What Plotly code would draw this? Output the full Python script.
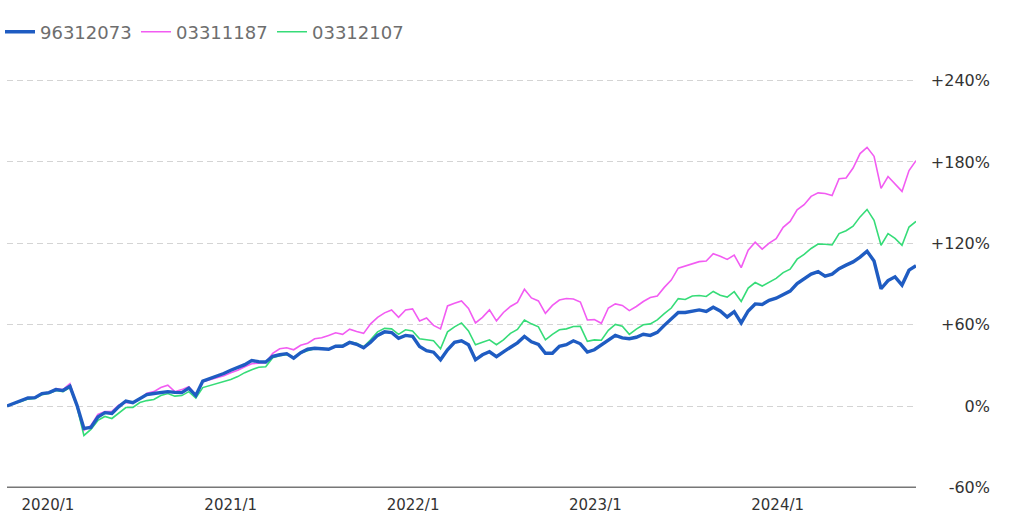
import pandas as pd
import plotly.graph_objects as go

# Series names (legend)
names = ["96312073", "03311187", "03312107"]
colors = ["#1f5cc2", "#f25cf2", "#36dc78"]

# Bi-weekly observation dates (cumulative return, %)
start_date = "2019-10-11"

fund_96312073 = [
    0, 1.8, 3.7, 5.9, 6.2, 9.2, 9.9, 12.1, 11.4, 14.5,
    0.7, -16.5, -15.8, -8.1, -4.9, -5.5, -0.4, 3.7, 2.4, 5.3,
    8.4, 9.2, 9.9, 10.6, 10.1, 9.9, 13.2, 7.7, 18.4, 20.2,
    22.0, 24.0, 26.4, 28.3, 30.5, 33.6, 32.7, 32.5, 36.7, 37.8,
    38.6, 35.3, 39.3, 41.9, 42.6, 42.2, 41.9, 44.1, 44.1, 46.9,
    45.5, 43.0, 47.0, 52.1, 54.7, 54.2, 49.9, 52.1, 51.4, 43.9,
    40.8, 39.7, 34.1, 41.5, 47.0, 48.1, 45.2, 34.1, 37.8, 40.0,
    36.4, 40.0, 43.3, 46.6, 51.3, 47.4, 45.5, 38.9, 38.9, 44.1,
    45.2, 48.1, 45.9, 39.8, 41.5, 44.8, 48.5, 52.1, 50.3, 49.6,
    50.7, 52.9, 52.1, 54.3, 59.5, 63.9, 69.0, 69.0, 70.1, 70.9,
    69.8, 72.9, 70.1, 65.7, 69.6, 61.3, 70.1, 75.3, 74.9, 78.0,
    79.5, 81.9, 84.8, 90.3, 93.9, 97.3, 99.1, 95.8, 97.3, 101.3,
    103.9, 106.3, 109.8, 114.2, 106.9, 86.5, 92.5, 95.3, 89.2, 100.2,
    103.5,
]

fund_03311187 = [
    0, 1.8, 3.7, 5.9, 6.2, 9.2, 9.9, 12.9, 12.1, 16.5,
    0.4, -18.0, -14.3, -6.2, -4.0, -4.0, 0.7, 2.6, 2.2, 5.5,
    9.5, 10.6, 13.6, 15.4, 10.6, 12.1, 14.3, 8.4, 18.0, 19.5,
    20.9, 22.4, 24.6, 26.4, 29.0, 31.2, 31.6, 31.9, 38.9, 42.2,
    43.0, 41.5, 44.8, 46.3, 49.6, 50.3, 52.1, 54.0, 52.9, 56.7,
    54.9, 53.6, 60.6, 65.4, 68.7, 70.9, 65.4, 70.9, 71.6, 62.8,
    65.0, 59.5, 56.9, 73.8, 75.8, 77.5, 72.0, 61.3, 65.4, 70.9,
    62.8, 69.0, 73.4, 76.4, 86.1, 79.7, 77.5, 68.4, 74.2, 78.2,
    79.3, 78.9, 76.7, 63.5, 63.7, 61.0, 72.3, 75.3, 74.2, 70.4,
    73.4, 77.1, 80.0, 81.2, 87.5, 92.9, 101.7, 103.3, 104.9, 106.5,
    106.9, 112.3, 110.5, 108.1, 111.3, 102.1, 114.9, 120.8, 115.7, 120.1,
    123.4, 131.8, 136.2, 144.7, 148.5, 154.6, 157.2, 156.8, 155.3, 167.6,
    168.2, 175.5, 186.2, 190.8, 184.2, 160.5, 169.3, 164.1, 158.3, 173.7,
    181.0,
]

fund_03312107 = [
    0, 1.5, 3.3, 5.1, 5.5, 8.4, 9.2, 11.4, 10.6, 13.6,
    -0.4, -21.7, -17.3, -10.6, -7.7, -9.2, -4.8, -1.1, -1.1, 2.6,
    4.0, 4.8, 7.7, 9.2, 7.3, 7.7, 10.6, 5.9, 13.6, 15.1,
    16.5, 17.6, 19.5, 21.7, 24.6, 26.8, 28.6, 29.0, 35.6, 37.1,
    37.8, 36.0, 39.1, 40.8, 42.2, 42.6, 41.9, 44.4, 44.8, 47.4,
    46.3, 43.7, 48.8, 54.7, 57.3, 56.9, 52.9, 56.2, 55.4, 49.6,
    48.8, 48.1, 42.2, 54.7, 58.4, 61.3, 55.4, 45.2, 47.0, 48.8,
    45.2, 48.8, 53.6, 56.5, 63.5, 60.6, 58.4, 48.8, 52.9, 56.2,
    56.9, 58.6, 58.8, 47.7, 48.8, 48.5, 55.8, 60.2, 58.8, 52.9,
    56.7, 59.9, 60.6, 63.5, 68.1, 72.3, 79.2, 78.6, 81.2, 81.5,
    80.8, 84.5, 81.7, 80.4, 84.3, 77.1, 87.0, 91.1, 88.5, 91.4,
    94.1, 98.4, 101.0, 108.3, 111.8, 116.2, 119.5, 119.3, 118.8, 127.2,
    129.3, 132.6, 139.5, 145.0, 137.0, 118.6, 127.1, 123.7, 118.6, 132.0,
    136.2,
]

y_tickvals = [-60, 0, 60, 120, 180, 240]
y_ticktext = ["-60%", "0%", "+60%", "+120%", "+180%", "+240%"]

dates = pd.date_range(start_date, periods=len(fund_96312073), freq="14D")

series = [fund_96312073, fund_03311187, fund_03312107]
widths = [3.4, 1.6, 1.6]

fig = go.Figure()
# draw thin lines first so the thick blue line sits on top
for i in [1, 2, 0]:
    fig.add_trace(go.Scatter(
        x=dates, y=series[i], name=names[i], mode="lines",
        line=dict(color=colors[i], width=widths[i]),
        legendrank=i + 1,
    ))

# empty trace to carry the right-hand label axis
fig.add_trace(go.Scatter(x=[], y=[], yaxis="y2", showlegend=False, hoverinfo="skip"))

L, R = 7, 34
W, H = 1024, 525
plot_right = 916
xdom_end = (plot_right - L) / (W - L - R)
yr = [-61.2, 241.2]
T, B = 79, 36  # plot area keeps -60..240 at y≈488..81

fig.update_layout(
    width=W, height=H,
    margin=dict(l=L, r=R, t=T, b=B, pad=0, autoexpand=False),
    paper_bgcolor="white", plot_bgcolor="white",
    font=dict(family="DejaVu Sans", color="#333333"),
    showlegend=True,
    legend=dict(
        orientation="h", xref="container", x=-4 / W, xanchor="left",
        yref="container", y=1 - 32 / H, yanchor="middle",
        font=dict(size=18, color="#6e6e6e", family="DejaVu Sans"),
        itemwidth=30, entrywidth=91, entrywidthmode="pixels",
        traceorder="normal", bgcolor="rgba(0,0,0,0)",
    ),
    xaxis=dict(
        domain=[0, xdom_end],
        type="date",
        range=[dates[0], dates[-1]],
        tick0="2020-01-01", dtick="M12", tickformat="%Y/%-m",
        showgrid=False, zeroline=False,
        showline=False,
        ticks="", tickfont=dict(size=15, color="#333333"),
        ticklabelstandoff=5,
    ),
    yaxis=dict(
        range=yr, side="right",
        tickvals=y_tickvals[1:], showticklabels=False,
        showgrid=True, gridcolor="#d4d4d4", griddash="6px,4px", gridwidth=1,
        zeroline=False,
        ticks="",
    ),
    yaxis2=dict(
        range=yr, overlaying="y", side="left", anchor="free", position=1,
        tickvals=y_tickvals, ticktext=y_ticktext,
        ticklabelposition="outside", showgrid=False, zeroline=False, ticks="",
        showline=False, tickfont=dict(size=16, color="#333333"),
    ),
    shapes=[dict(
        type="line", xref="x", yref="y", layer="above",
        x0=dates[0], x1=dates[-1], y0=y_tickvals[0], y1=y_tickvals[0],
        line=dict(color="#777777", width=1.5),
    )],
)

fig.write_html("out.html")
